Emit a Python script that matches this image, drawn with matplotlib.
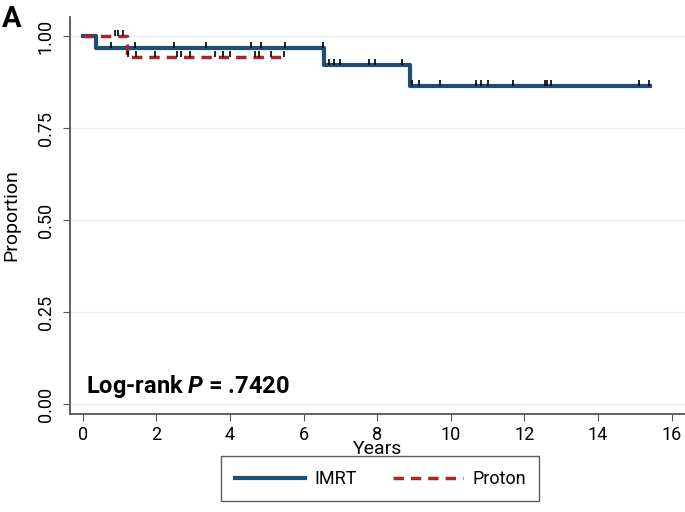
import numpy as np
import matplotlib.pyplot as plt

# Kaplan-Meier step data (years, survival proportion)
imrt_t = [0, 0.35, 6.54, 8.9, 15.4]
imrt_s = [1.0, 0.968, 0.921, 0.864, 0.864]
imrt_cens_t = [0.78, 1.42, 2.48, 3.36, 4.56, 4.84, 5.50, 6.53,
               6.69, 6.83, 6.99, 7.78, 7.95, 8.68,
               8.95, 9.13, 9.71, 10.68, 10.82, 11.02, 11.69, 12.57, 12.61, 12.73, 15.12, 15.39]
imrt_cens_s = [0.968] * 8 + [0.921] * 6 + [0.864] * 12

proton_t = [0, 1.2, 5.45]
proton_s = [1.0, 0.943, 0.943]
proton_cens_t = [0.87, 0.97, 1.1,
                 1.24, 1.44, 1.95, 2.55, 2.66, 2.91, 3.58, 3.81, 3.99, 4.67, 4.8, 5.12, 5.48]
proton_cens_s = [1.0] * 3 + [0.943] * 13

plt.rcParams['font.family'] = ['Roboto', 'DejaVu Sans']
plt.rcParams['mathtext.fontset'] = 'custom'
plt.rcParams['mathtext.bfit'] = 'Roboto:italic:bold'

fig = plt.figure(figsize=(6.85, 5.12), dpi=100)
ax = fig.add_axes([0.102, 0.191, 0.898, 0.776])

ax.step(imrt_t, imrt_s, where='post', color='#1f4e79', lw=3, label='IMRT', zorder=3)
ax.step(proton_t, proton_s, where='post', color='#a3282e', lw=2.5, ls=(0, (3, 2)), label='Proton', zorder=4)
ax.vlines(imrt_cens_t, imrt_cens_s, np.array(imrt_cens_s) + 0.016, color='black', lw=1.2, zorder=5)
ax.vlines(proton_cens_t, proton_cens_s, np.array(proton_cens_s) + 0.016, color='black', lw=1.2, zorder=5)

ax.set_xlim(-0.35, 16.36)
ax.set_ylim(-0.027, 1.052)
ax.set_xticks(range(0, 17, 2))
ax.set_yticks([0, 0.25, 0.5, 0.75, 1.0])
ax.set_yticklabels(['0.00', '0.25', '0.50', '0.75', '1.00'], rotation=90, va='center')
ax.tick_params(labelsize=13, color='#555555', length=5)
ax.tick_params(axis='y', pad=6)
ax.grid(axis='y', color='#e6f0f2', lw=1)
ax.set_axisbelow(True)
for s in ['top', 'right']:
    ax.spines[s].set_visible(False)
for s in ['left', 'bottom']:
    ax.spines[s].set_color('#555555')
    ax.spines[s].set_linewidth(1.3)

ax.set_xlabel('Years', fontsize=14, labelpad=-3)
ax.set_ylabel('Proportion', fontsize=14, labelpad=12)

ax.text(0.1, 0.03, r'Log-rank $\mathbfit{P}$ = .7420', fontsize=17, fontweight='bold')
fig.text(0.003, 0.948, 'A', fontsize=21, fontweight='bold')

fig.legend(loc='lower center', bbox_to_anchor=(0.555, 0.003), ncol=2, fontsize=13,
           fancybox=False, edgecolor='#333333', handlelength=3.9, handletextpad=0.5,
           columnspacing=2.0, borderpad=0.75)

fig.savefig('out.png')
